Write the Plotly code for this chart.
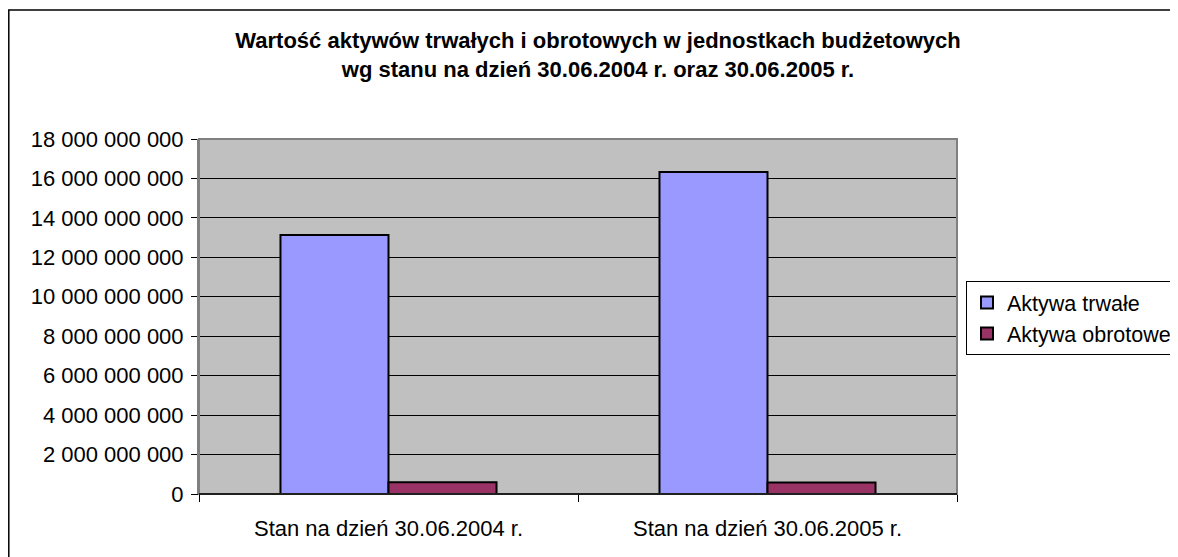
import plotly.graph_objects as go

categories = ["Stan na dzień 30.06.2004 r.", "Stan na dzień 30.06.2005 r."]
aktywa_trwale = [13130000000, 16330000000]
aktywa_obrotowe = [600000000, 580000000]
y_ticks = [0, 2e9, 4e9, 6e9, 8e9, 10e9, 12e9, 14e9, 16e9, 18e9]

OFF = 8  # page body margin
W, H = 1178 - OFF, 557 - OFF
ML, MR, MT, MB = 199 - OFF, 1178 - 957, 139 - OFF, 557 - 494
PW = W - ML - MR
PH = H - MT - MB

def px_x(p):
    return (p - OFF - ML) / PW

def px_y(p):
    return (H + OFF - MB - p) / PH

FONT = "Arial, Liberation Sans, sans-serif"
FS = 22

fig = go.Figure()
fig.add_trace(go.Bar(name="Aktywa trwałe", x=categories, y=aktywa_trwale,
                     marker=dict(color="#9999FF", line=dict(color="black", width=2))))
fig.add_trace(go.Bar(name="Aktywa obrotowe", x=categories, y=aktywa_obrotowe,
                     marker=dict(color="#993366", line=dict(color="black", width=2))))

fig.update_layout(
    width=W, height=H,
    margin=dict(l=ML, r=MR, t=MT, b=MB, autoexpand=False),
    paper_bgcolor="white",
    plot_bgcolor="#C0C0C0",
    barmode="group", bargap=0.43, bargroupgap=0,
    separators=", ",
    font=dict(family=FONT, size=FS, color="black"),
    title=dict(text="<b>Wartość aktywów trwałych i obrotowych w jednostkach budżetowych<br>wg stanu na dzień 30.06.2004 r. oraz 30.06.2005 r.</b>",
               x=(598 - OFF) / W, xanchor="center", y=1 - 40 / H, yanchor="top",
               font=dict(family=FONT, size=FS, color="black")),
    showlegend=True,
    legend=dict(x=px_x(966), y=px_y(281), xanchor="left", yanchor="top",
                bgcolor="white", bordercolor="black", borderwidth=1,
                font=dict(family=FONT, size=21.5), tracegroupgap=0, itemwidth=30),
    xaxis=dict(type="category", showgrid=False, showline=True, linecolor="black", linewidth=1,
               ticks="outside", tickson="boundaries", ticklen=7, tickcolor="black",
               ticklabelstandoff=15, zeroline=False),
    yaxis=dict(range=[0, 18e9], tickvals=y_ticks, tickformat=",.0f",
               showgrid=True, gridcolor="black", gridwidth=1,
               showline=True, linecolor="#808080", linewidth=2,
               ticks="outside", ticklen=6, tickcolor="black", ticklabelstandoff=3,
               zeroline=False),
    shapes=[
        dict(type="rect", xref="paper", yref="paper", x0=0, x1=1, y0=0, y1=1,
             line=dict(color="#808080", width=2), fillcolor="rgba(0,0,0,0)", layer="above"),
        dict(type="line", xref="paper", yref="paper", x0=0, x1=1, y0=0, y1=0,
             line=dict(color="black", width=1.5), layer="above"),
        dict(type="rect", xref="paper", yref="paper", x0=px_x(8.8), x1=px_x(1190),
             y0=px_y(570), y1=px_y(10), line=dict(color="black", width=1.5),
             fillcolor="rgba(0,0,0,0)", layer="below"),
    ],
)

fig.write_html("out.html")
